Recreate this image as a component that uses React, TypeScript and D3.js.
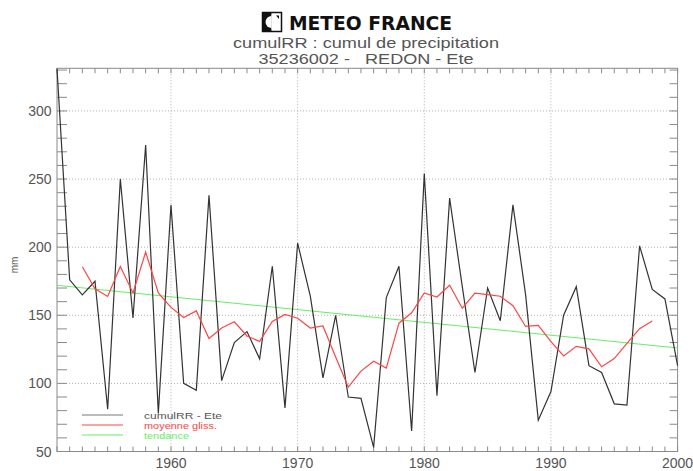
import React from 'react';
import * as d3 from 'd3';

const startYear = 1951;
const cumulRR = [
  331, 176, 165, 175, 81, 250, 148, 275, 78, 231,
  100, 95, 238, 102, 130, 138, 118, 186, 82, 203,
  164, 104, 150, 90, 89, 53, 163, 186, 65, 254,
  91, 236, 171, 108, 170, 146, 231, 165, 73, 94,
  150, 171, 113, 108, 85, 84, 201, 169, 162, 113,
];
const movingYearStart = 1953;
const moyenneGliss = [
  185.6, 169.4, 163.8, 185.8, 166.4, 196.4, 166.4, 155.8, 148.4, 153.2,
  133.0, 140.6, 145.2, 134.8, 130.8, 145.4, 150.6, 147.8, 140.6, 142.2,
  119.4, 97.2, 109.0, 116.2, 111.2, 144.2, 151.8, 166.4, 163.4, 172.0,
  155.2, 166.2, 165.2, 164.0, 157.0, 141.8, 142.6, 130.6, 120.2, 127.2,
  125.4, 112.2, 118.2, 129.4, 140.2, 145.8,
];
const trendYears = [1951, 2000];
const trendValues = [172, 126];
const yTicks = [50, 100, 150, 200, 250, 300];
const xTicks = [1960, 1970, 1980, 1990, 2000];
const legendLabels = ['cumulRR - Ete', 'moyenne gliss.', 'tendance'];
const legendWidths = [78, 73, 45];

const W = 693;
const H = 471;
const L = 57, R = 677.6, T = 68.3, B = 451.5;

export default function App() {
  const x = d3.scaleLinear().domain([1951, 2000]).range([L, R]);
  const y = d3.scaleLinear().domain([50, 331.3]).range([B, T]);

  const blackPts: [number, number][] = cumulRR.map((v, i) => [startYear + i, v]);
  const redPts: [number, number][] = moyenneGliss.map((v, i) => [movingYearStart + i, v]);
  const greenPts: [number, number][] = trendYears.map((yr, i) => [yr, trendValues[i]]);

  const line = d3.line<[number, number]>().x(d => x(d[0])).y(d => y(d[1]));

  const yearTicks = d3.range(1951, 2001);
  const yMinor = d3.range(60, 331, 10);

  const font = "'Liberation Sans', 'DejaVu Sans', sans-serif";
  const gridColor = '#b0b0b0';
  const axisColor = '#8a8a8a';
  const textColor = '#555';

  const colors = ['#333', '#ff4444', '#66ee66'];

  return (
    <svg width={W} height={H} style={{ position: 'absolute', left: 0, top: 0, background: '#fff' }} fontFamily={font}>
      {/* header */}
      <g>
        <rect x={262.5} y={12.5} width={19} height={19} fill="#fff" stroke="#111" strokeWidth={1.5} />
        <rect x={262.5} y={12.5} width={9} height={19} fill="#111" />
        <path d="M271.5,14.5 A7.5,7.5 0 0,1 271.5,29.5 Z" fill="#fff" />
        <path d="M271.5,16 A6,6 0 0,0 271.5,28 Z" fill="#fff" />
        <path d="M276,15.5 L279,15.5 L279,19 Z" fill="#111" />
        <text x={289} y={30} fontSize={20} fontWeight="bold" fill="#111" fontFamily="'DejaVu Sans', sans-serif" textLength={163} lengthAdjust="spacingAndGlyphs">METEO FRANCE</text>
        <text x={366} y={48} fontSize={15} fill={textColor} textAnchor="middle" textLength={266} lengthAdjust="spacingAndGlyphs">cumulRR : cumul de precipitation</text>
        <text x={366} y={64} fontSize={15} fill={textColor} textAnchor="middle" textLength={215} lengthAdjust="spacingAndGlyphs" xmlSpace="preserve">35236002 -   REDON - Ete</text>
      </g>

      {/* grid */}
      {yTicks.filter(v => v > 50).map(v => (
        <line key={'gy' + v} x1={L} x2={R} y1={y(v)} y2={y(v)} stroke={gridColor} strokeWidth={1} strokeDasharray="1,2" />
      ))}
      {xTicks.filter(v => v < 2000).map(v => (
        <line key={'gx' + v} x1={x(v)} x2={x(v)} y1={T} y2={B} stroke={gridColor} strokeWidth={1} strokeDasharray="1,2" />
      ))}

      {/* frame */}
      <rect x={L} y={T} width={R - L} height={B - T} fill="none" stroke={axisColor} strokeWidth={1} />

      {/* x ticks */}
      {yearTicks.map(v => (
        <g key={'xt' + v}>
          <line x1={x(v)} x2={x(v)} y1={B} y2={B - 5} stroke={axisColor} />
          <line x1={x(v)} x2={x(v)} y1={T} y2={T + 5} stroke={axisColor} />
        </g>
      ))}
      {/* y ticks */}
      {yMinor.map(v => (
        <g key={'yt' + v}>
          <line x1={L} x2={L + 10} y1={y(v)} y2={y(v)} stroke={axisColor} />
          <line x1={R} x2={R - 8} y1={y(v)} y2={y(v)} stroke={axisColor} />
        </g>
      ))}

      {/* tick labels */}
      {yTicks.map(v => (
        <text key={'yl' + v} x={51.5} y={y(v) + 5} fontSize={14} fill={textColor} textAnchor="end">{v}</text>
      ))}
      {xTicks.map(v => (
        <text key={'xl' + v} x={x(v)} y={468} fontSize={14} fill={textColor} textAnchor="middle">{v}</text>
      ))}
      <text transform={`translate(18,265) rotate(-90)`} fontSize={10} fill={textColor} textAnchor="middle">mm</text>

      {/* data */}
      <path d={line(greenPts) || ''} fill="none" stroke={colors[2]} strokeWidth={1} />
      <path d={line(blackPts) || ''} fill="none" stroke={colors[0]} strokeWidth={1.2} />
      <path d={line(redPts) || ''} fill="none" stroke={colors[1]} strokeWidth={1.2} />

      {/* legend */}
      {legendLabels.map((lab, i) => (
        <g key={'lg' + i}>
          <line x1={82} x2={123} y1={415 + i * 10} y2={415 + i * 10} stroke={i === 0 ? '#777' : colors[i]} strokeWidth={1} />
          <text x={144} y={418.5 + i * 10} fontSize={8.6} fill={i === 0 ? textColor : colors[i]} textLength={legendWidths[i]} lengthAdjust="spacingAndGlyphs">{lab}</text>
        </g>
      ))}
    </svg>
  );
}
